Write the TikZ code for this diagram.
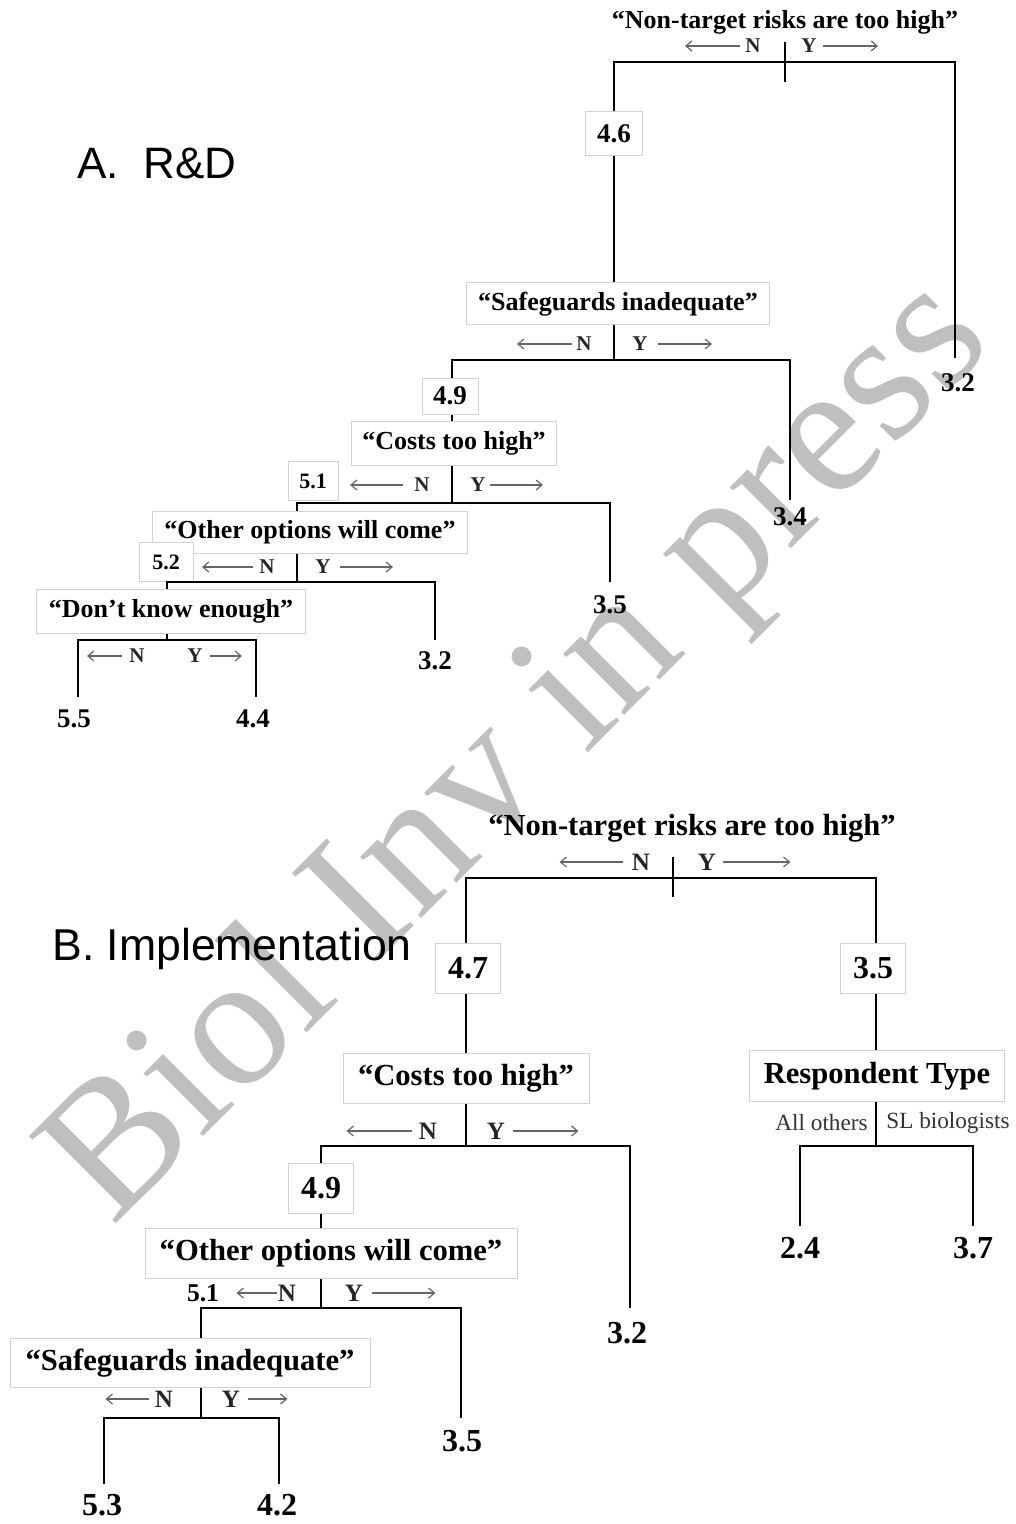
\documentclass[tikz,border=0pt]{standalone}
\usepackage{fontspec}
\setmainfont{Liberation Serif}
\newfontfamily\sansA{Liberation Sans}
\usetikzlibrary{arrows.meta}
\newcommand{\fz}[1]{\fontsize{#1}{#1}\selectfont}
\newcommand{\larr}[3]{\draw[nyarr] ([xshift=-#2*0.5pt]#1.west) -- ++(-#3,0);}
\newcommand{\rarr}[3]{\draw[nyarr] ([xshift=#2*0.5pt]#1.east) -- ++(#3,0);}
\begin{document}
\begin{tikzpicture}[x=0.5pt,y=-0.5pt,
  tree/.style={line width=1.45pt, black, line join=miter},
  box/.style 2 args={draw=gray!35, line width=0.5pt, fill=white, inner sep=0pt,
     minimum width=#1*0.5pt, minimum height=#2*0.5pt},
  qA/.style={font=\bfseries\fz{13}, inner sep=0pt},
  qB/.style={font=\bfseries\fz{15.3}, inner sep=0pt},
  numA/.style={font=\bfseries\fz{13.5}, inner sep=0pt},
  numB/.style={font=\bfseries\fz{16}, inner sep=0pt},
  smallA/.style={font=\bfseries\fz{11}, inner sep=0pt},
  smallB/.style={font=\bfseries\fz{12.8}, inner sep=0pt},
  nyA/.style={font=\bfseries\fz{10.5}, text=black!85, inner sep=0pt},
  nyB/.style={font=\bfseries\fz{12.5}, text=black!85, inner sep=0pt},
  rt/.style={font=\fz{11.6}, text=black!80, inner sep=0pt},
  nyarr/.style={draw=black!60, line width=0.6pt, -{Straight Barb[length=3pt,width=5pt]}},
  wm/.style={font=\fz{94}, text=gray!50, inner sep=0pt}
]
\useasboundingbox[fill=white] (0,0) rectangle (1016,1524);

% watermark
\node[wm, rotate=45, anchor=base west] (wm) at (112,1228) {Biol Inv in press};

% ================= Panel A =================
\node[font=\sansA\fz{22}, inner sep=0pt] (titA) at (157,163) {A.\ \ R\&D};
\node[qA] (a0) at (785,22) {“Non-target risks are too high”};
\node[nyA] (a0N) at (753,46) {N};
\node[nyA] (a0Y) at (809,46) {Y};
\larr{a0N}{5}{55}
\rarr{a0Y}{6}{55}
\coordinate (a0s) at (785,62);
\coordinate (a0t) at (785,42);
\coordinate (a0b) at (785,82);
\coordinate (a0e) at (955,358);
\node[box={57}{44}, numA] (a46) at (614,134) {4.6};
\node[box={303}{42}, qA] (aSaf) at (618,304) {“Safeguards inadequate”};
\draw[tree] (a0t) -- (a0b);
\draw[tree] (a46.north) |- (a0s) -| (a0e);
\draw[tree] (a46.south) -- (a46.south |- aSaf.north);
\node[numA] (a32) at (958,383) {3.2};

\coordinate (a1s) at (614,360);
\coordinate (a1e) at (790,500);
\coordinate (a2s) at (452,503);
\draw[tree] (aSaf.south -| a1s) -- (a1s);
\node[nyA] (a1N) at (584,344) {N};
\node[nyA] (a1Y) at (640,344) {Y};
\larr{a1N}{4}{55}
\rarr{a1Y}{10}{54}
\node[box={56}{36}, numA] (a49) at (450,396) {4.9};
\draw[tree] (a49.north -| a2s) |- (a1s) -| (a1e);
\node[numA] (a34) at (790,517) {3.4};
\node[box={205}{44}, qA] (aCost) at (454,443) {“Costs too high”};
\draw[tree] (a49.south -| a2s) -- (aCost.north -| a2s);
\draw[tree] (aCost.south -| a2s) -- (a2s);
\node[nyA] (a2N) at (422,485) {N};
\node[nyA] (a2Y) at (478,485) {Y};
\larr{a2N}{11}{53}
\rarr{a2Y}{4}{53}
\node[box={50}{39}, smallA] (a51) at (313,481) {5.1};

\coordinate (a2e) at (610,582);
\coordinate (a3s) at (297,582);
\node[box={315}{42}, qA] (aOth) at (310,532) {“Other options will come”};
\draw[tree] (aOth.north -| a3s) |- (a2s) -| (a2e);
\node[numA] (a35) at (610,605) {3.5};
\draw[tree] (aOth.south -| a3s) -- (a3s);
\node[nyA] (a3N) at (267,567) {N};
\node[nyA] (a3Y) at (323,567) {Y};
\larr{a3N}{6}{51}
\rarr{a3Y}{9}{53}
\node[box={54}{39}, smallA] (a52) at (166,562) {5.2};

\coordinate (a3e) at (435,640);
\coordinate (a4s) at (167,640);
\node[box={269}{44}, qA] (aDon) at (171,611) {“Don’t know enough”};
\draw[tree] (aDon.north -| a4s) |- (a3s) -| (a3e);
\node[numA] (a32b) at (435,661) {3.2};
\draw[tree] (aDon.south -| a4s) -- (a4s);
\coordinate (a4l) at (78,697);
\coordinate (a4r) at (256,697);
\draw[tree] (a4l) |- (a4s) -| (a4r);
\node[nyA] (a4N) at (137,656) {N};
\node[nyA] (a4Y) at (195,656) {Y};
\larr{a4N}{7}{35}
\rarr{a4Y}{7}{32}
\node[numA] (a55) at (74,719) {5.5};
\node[numA] (a44) at (253,719) {4.4};

% ================= Panel B =================
\node[font=\sansA\fz{22.3}, inner sep=0pt] (titB) at (232,949) {B. Implementation};
\node[qB] (b0) at (692,828) {“Non-target risks are too high”};
\node[nyB] (b0N) at (641,862) {N};
\node[nyB] (b0Y) at (707,862) {Y};
\larr{b0N}{9}{63}
\rarr{b0Y}{7}{67}
\coordinate (b0s) at (673,878);
\coordinate (b0t) at (673,857);
\coordinate (b0b) at (673,897);
\coordinate (b1s) at (466,1146);
\coordinate (bRs) at (876,1146);
\node[box={65}{50}, numB] (b47) at (468,968) {4.7};
\node[box={65}{50}, numB] (b35) at (873,968) {3.5};
\draw[tree] (b0t) -- (b0b);
\draw[tree] (b47.north -| b1s) |- (b0s) -| (b35.north -| bRs);

\node[box={246}{50}, qB] (bCost) at (466,1078) {“Costs too high”};
\draw[tree] (b47.south -| b1s) -- (bCost.north -| b1s);
\draw[tree] (bCost.south -| b1s) -- (b1s);
\node[nyB] (b1N) at (428,1131) {N};
\node[nyB] (b1Y) at (496,1131) {Y};
\larr{b1N}{7}{65}
\rarr{b1Y}{8}{65}
\coordinate (b1e) at (630,1308);
\coordinate (b2s) at (321,1308);
\node[box={65}{50}, numB] (b49) at (321,1188) {4.9};
\draw[tree] (b49.north -| b2s) |- (b1s) -| (b1e);
\node[numB] (b32) at (627,1333) {3.2};
\node[box={372}{50}, qB] (bOth) at (331,1253) {“Other options will come”};
\draw[tree] (b49.south -| b2s) -- (bOth.north -| b2s);
\draw[tree] (bOth.south -| b2s) -- (b2s);
\node[smallB] (b51) at (203,1293) {5.1};
\node[nyB] (b2N) at (287,1293) {N};
\node[nyB] (b2Y) at (354,1293) {Y};
\larr{b2N}{1}{40}
\rarr{b2Y}{9}{63}

\coordinate (b3s) at (201,1418);
\coordinate (b2e) at (461,1418);
\node[box={360}{49}, qB] (bSaf) at (190,1363) {“Safeguards inadequate”};
\draw[tree] (bSaf.north -| b3s) |- (b2s) -| (b2e);
\node[numB] (b35b) at (462,1441) {3.5};
\draw[tree] (bSaf.south -| b3s) -- (b3s);
\node[nyB] (b3N) at (164,1399) {N};
\node[nyB] (b3Y) at (231,1399) {Y};
\larr{b3N}{6}{43}
\rarr{b3Y}{8}{39}
\coordinate (b3l) at (104,1484);
\coordinate (b3r) at (279,1484);
\draw[tree] (b3l) |- (b3s) -| (b3r);
\node[numB] (b53) at (102,1505) {5.3};
\node[numB] (b42) at (277,1505) {4.2};

\node[box={255}{51}, qB] (bResp) at (877,1076) {Respondent Type};
\draw[tree] (b35.south -| bRs) -- (bResp.north -| bRs);
\draw[tree] (bResp.south -| bRs) -- (bRs);
\node[rt, anchor=east] (bAll) at (868,1123) {All others};
\node[rt, anchor=west] (bSL) at (886,1123) {SL biologists};
\coordinate (bRl) at (800,1226);
\coordinate (bRr) at (973,1226);
\draw[tree] (bRl) |- (bRs) -| (bRr);
\node[numB] (b24) at (800,1248) {2.4};
\node[numB] (b37) at (973,1248) {3.7};
\end{tikzpicture}
\end{document}
